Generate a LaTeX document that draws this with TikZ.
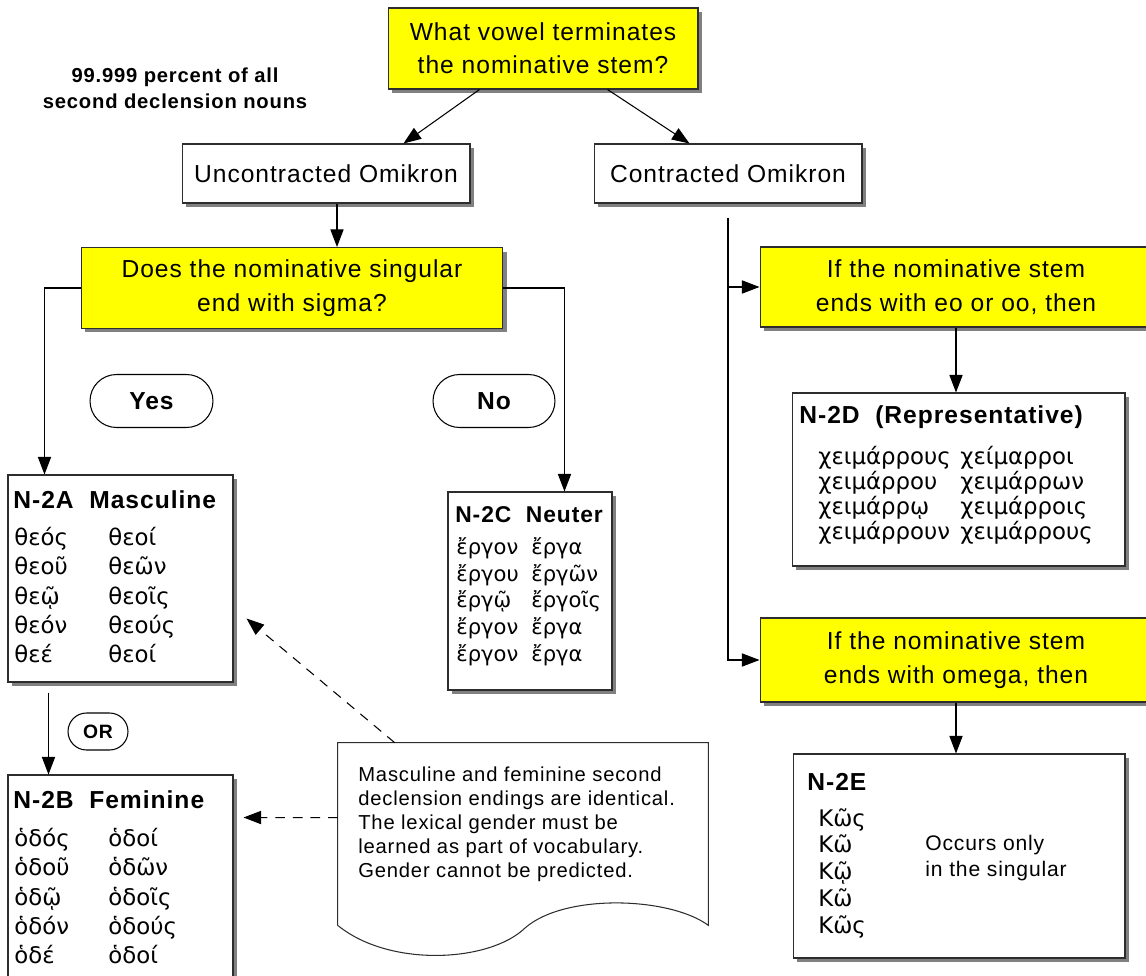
\documentclass[tikz,border=0pt]{standalone}
\usepackage{fontspec}
\setmainfont{Liberation Sans}[LetterSpace=4]
\newfontfamily\greekfont{DejaVu Sans}
\usetikzlibrary{arrows.meta,shadows,shapes.misc,calc}
\definecolor{askyellow}{RGB}{255,255,0}
\definecolor{edgegray}{RGB}{45,45,45}

\tikzset{
  plainbox/.style={draw=edgegray, fill=white, line width=0.6pt, inner sep=0pt,
    drop shadow={shadow xshift=0.08cm, shadow yshift=-0.08cm, fill=black!50, opacity=1}},
  askbox/.style={plainbox, fill=askyellow, align=center, font=\fontsize{14}{19}\selectfont},
  labelbox/.style={plainbox, font=\fontsize{14}{19}\selectfont},
  answer/.style={draw, rounded rectangle, line width=0.6pt, inner sep=0pt, font=\bfseries\fontsize{14}{17}\selectfont},
  link/.style={line width=0.6pt, -{Triangle[length=10pt,width=7.5pt]}},
  hint/.style={link, dash pattern=on 5.5pt off 4.5pt},
  formtitle/.style={anchor=west, inner sep=0pt, font=\bfseries\fontsize{14}{17}\selectfont},
  forms/.style={anchor=north west, inner sep=0pt, align=left, font=\greekfont\fontsize{13}{16.7}\selectfont},
}

\begin{document}
\begin{tikzpicture}[x=0.02cm,y=-0.02cm]
\useasboundingbox (0,0) rectangle (1146,976);

\node[askbox, minimum width=6.2cm, minimum height=1.62cm] (q1) at (543,48.5) {What vowel terminates\\the nominative stem?};
\node[align=center, font=\bfseries\fontsize{11.5}{14.7}\selectfont] (pct) at (175,88) {99.999 percent of all\\second declension nouns};
\node[labelbox, minimum width=5.76cm, minimum height=1.18cm] (unc) at (326,173.5) {Uncontracted Omikron};
\node[labelbox, minimum width=5.36cm, minimum height=1.18cm] (con) at (728,173.5) {Contracted Omikron};

\node[askbox, minimum width=8.44cm, minimum height=1.62cm] (q2) at (292,288) {Does the nominative singular\\end with sigma?};
\node[askbox, minimum width=7.84cm, minimum height=1.6cm] (q3) at (956,287) {If the nominative stem\\ends with eo or oo, then};
\node[askbox, minimum width=7.84cm, minimum height=1.68cm] (q4) at (956,660) {If the nominative stem\\ends with omega, then};

\node[answer, minimum width=2.46cm, minimum height=1.06cm] (yes) at (151.5,401) {Yes};
\node[answer, minimum width=2.44cm, minimum height=1.06cm] (no) at (494,401) {No};
\node[answer, minimum width=1.2cm, minimum height=0.74cm, font=\bfseries\fontsize{11}{13}\selectfont] (or) at (98,731.5) {OR};

\node[plainbox, minimum width=4.5cm, minimum height=4.14cm] (n2a) at (120.5,578.5) {};
\node[formtitle] (n2at) at (13,500) {N-2A\ \ Masculine};
\node[forms] (n2al) at (14,527) {θεός\\θεοῦ\\θεῷ\\θεόν\\θεέ};
\node[forms] (n2ar) at (108,527) {θεοί\\θεῶν\\θεοῖς\\θεούς\\θεοί};

\node[plainbox, minimum width=4.5cm, minimum height=4.4cm] (n2b) at (120.5,885) {};
\node[formtitle] (n2bt) at (13,800) {N-2B\ \ Feminine};
\node[forms] (n2bl) at (14,828) {ὁδός\\ὁδοῦ\\ὁδῷ\\ὁδόν\\ὁδέ};
\node[forms] (n2br) at (108,828) {ὁδοί\\ὁδῶν\\ὁδοῖς\\ὁδούς\\ὁδοί};

\node[plainbox, minimum width=3.28cm, minimum height=3.96cm] (n2c) at (530,591) {};
\node[formtitle, font=\bfseries\fontsize{13}{16}\selectfont] (n2ct) at (455,515) {N-2C\ \ Neuter};
\node[forms, font=\greekfont\fontsize{12}{15.3}\selectfont] (n2cl) at (456,537) {ἔργον\\ἔργου\\ἔργῷ\\ἔργον\\ἔργον};
\node[forms, font=\greekfont\fontsize{12}{15.3}\selectfont] (n2cr) at (531,537) {ἔργα\\ἔργῶν\\ἔργοῖς\\ἔργα\\ἔργα};

\node[plainbox, minimum width=6.66cm, minimum height=3.46cm] (n2d) at (958.5,479.5) {};
\node[formtitle] (n2dt) at (799,417) {N-2D\ \ (Representative)};
\node[forms, font=\greekfont\fontsize{13}{14.2}\selectfont] (n2dl) at (818,446) {χειμάρρους\\χειμάρρου\\χειμάρρῳ\\χειμάρρουν};
\node[forms, font=\greekfont\fontsize{13}{14.2}\selectfont] (n2dr) at (960,446) {χείμαρροι\\χειμάρρων\\χειμάρροις\\χειμάρρους};

\node[plainbox, minimum width=6.64cm, minimum height=4.08cm] (n2e) at (959,856) {};
\node[formtitle] (n2et) at (807,782) {N-2E};
\node[forms, font=\greekfont\fontsize{13}{15.3}\selectfont] (n2el) at (818,808) {Κῶς\\Κῶ\\Κῷ\\Κῶ\\Κῶς};
\node[anchor=west, inner sep=0pt, align=left, font=\fontsize{12}{15.3}\selectfont] (n2en) at (925,858) {Occurs only\\in the singular};

\node[minimum width=7.4cm, minimum height=3.64cm, inner sep=0pt] (note) at (523,834) {};
\draw[line width=0.6pt, draw=edgegray] (note.south west) -- (note.north west) -- (note.north east) -- (note.south east)
  .. controls (670,897) and (565,893) .. (525,928) .. controls (490,962) and (390,968) .. (note.south west);
\node[anchor=west, inner sep=0pt, align=left, font=\fontsize{11.5}{13.6}\selectfont] (notetxt) at (358,824) {Masculine and feminine second\\declension endings are identical.\\The lexical gender must be\\learned as part of vocabulary.\\Gender cannot be predicted.};

\coordinate (t1) at ($(q1.south west)+(92,0)$);
\coordinate (t2) at ($(q1.south west)+(220,0)$);
\draw[link] (t1) -- ($(unc.north west)+(222,0)$);
\draw[link] (t2) -- ($(con.north west)+(96,0)$);
\coordinate (u1) at ($(unc.south)+(11,0)$);
\draw[link] (u1) -- (u1 |- q2.north);
\draw[link] (q2.west) -| ($(n2a.north west)+(37,0)$);
\draw[link] (q2.east) -| ($(n2c.north west)+(117,0)$);
\draw[link] ($(n2a.south west)+(41,10)$) -- ($(n2b.north west)+(41,0)$);
\draw[hint] ($(note.north west)+(57,0)$) -- ($(n2a.east)+(13,40)$);
\draw[hint] ($(note.north west)+(0,75)$) -- ($(n2b.north east)+(10,43)$);

\coordinate (c1) at ($(con.south)+(0,14)$);
\draw[link] (c1) |- (q4.west);
\draw[link] (c1 |- q3.west) -- (q3.west);
\draw[link] (q3.south) -- (q3.south |- n2d.north);
\draw[link] (q4.south) -- (q4.south |- n2e.north);
\end{tikzpicture}
\end{document}
